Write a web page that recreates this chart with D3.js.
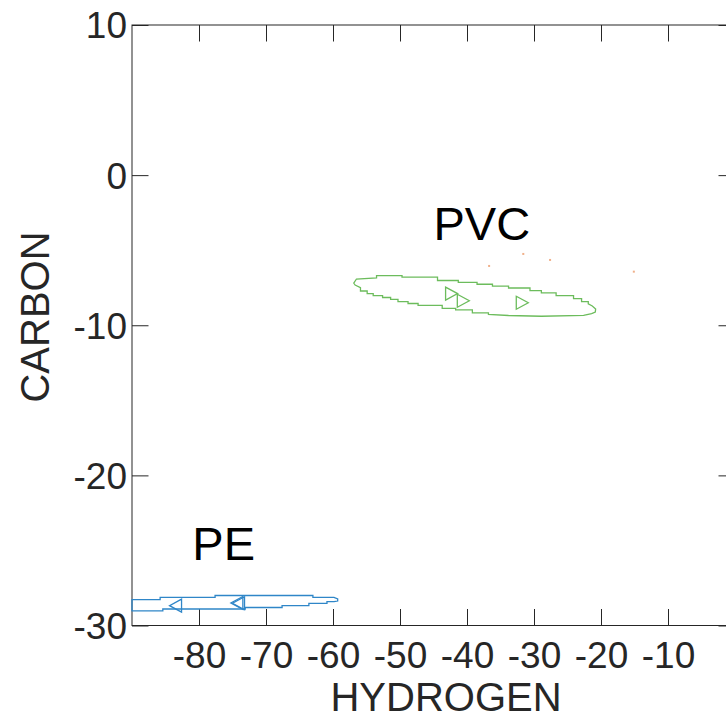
<!DOCTYPE html>
<html>
<head>
<meta charset="utf-8">
<script src="https://cdn.jsdelivr.net/npm/d3@7.9.0/dist/d3.min.js"></script>
<style>
  body { margin: 0; background: #fff; }
  svg { display: block; font-family: 'Liberation Sans', Arial, sans-serif; }
</style>
</head>
<body>
<svg id="chart" width="726" height="718"></svg>
<script>
// axis ticks
const xTicks = [-80, -70, -60, -50, -40, -30, -20, -10];
const yTicks = [10, 0, -10, -20, -30];

// contour outlines (data units)
const peContour = [
  [-90, -28.27], [-85.8, -28.27], [-85.8, -28.12], [-77.6, -28.12], [-77.6, -28.0],
  [-63.0, -28.0], [-63.0, -28.13], [-59.85, -28.13], [-59.3, -28.23], [-59.3, -28.37],
  [-59.85, -28.41], [-60.9, -28.41], [-60.9, -28.52], [-63.6, -28.52], [-63.6, -28.67],
  [-67.6, -28.67], [-67.6, -28.80], [-73.1, -28.80], [-73.1, -28.90], [-85.4, -28.90],
  [-85.4, -29.03], [-90, -29.03]
];
const pvcContour = [
  [-56.9, -7.19], [-56.5, -6.92], [-53.5, -6.85], [-53.5, -6.69], [-49.7, -6.69],
  [-49.7, -6.79], [-44.4, -6.79], [-44.4, -7.02], [-41.3, -7.02], [-41.3, -7.15],
  [-38.5, -7.15], [-38.5, -7.27], [-36.2, -7.27], [-36.2, -7.39], [-33.8, -7.39],
  [-33.8, -7.52], [-30.6, -7.52], [-30.6, -7.69], [-28.9, -7.69], [-28.9, -7.85],
  [-26.7, -7.85], [-26.7, -8.02], [-24.1, -8.02], [-24.1, -8.22], [-22.9, -8.22],
  [-22.9, -8.42], [-21.9, -8.42], [-21.9, -8.58], [-21.3, -8.72], [-20.8, -8.92],
  [-20.85, -9.12], [-21.4, -9.22], [-22.6, -9.34], [-28.9, -9.40], [-33.8, -9.35],
  [-36.8, -9.28], [-36.8, -9.17], [-39.2, -9.17], [-39.2, -8.97], [-41.7, -8.97],
  [-41.7, -8.87], [-43.7, -8.87], [-43.7, -8.68], [-47.3, -8.68], [-47.3, -8.55],
  [-48.8, -8.55], [-48.8, -8.42], [-50.3, -8.42], [-50.3, -8.28], [-51.4, -8.28],
  [-51.4, -8.15], [-52.6, -8.15], [-52.6, -8.02], [-54.0, -8.02], [-54.0, -7.89],
  [-54.9, -7.89], [-54.9, -7.72], [-55.9, -7.72], [-55.9, -7.49], [-56.7, -7.32]
];

// sample points
const pePoints = [[-83.5, -28.68], [-74.1, -28.52], [-74.35, -28.5]];
const pvcPoints = [[-42.3, -7.89], [-40.55, -8.37], [-31.75, -8.5]];
// faint third-class contour specks
const otherSpecks = [[-31.6, -5.25], [-36.7, -6.05], [-27.6, -5.65], [-15.1, -6.43]];

const labels = [
  { text: 'PVC', x: -45, y: -4.3 },
  { text: 'PE', x: -81, y: -25.64 }
];

const peColor = '#2f86c8';
const pvcColor = '#6cbc5c';
const axisColor = '#262626';

const svg = d3.select('#chart');
const mLeft = 132, mRight = 735, mTop = 25, mBottom = 625.5;

const x = d3.scaleLinear().domain([-90, 0]).range([mLeft, mRight]);
const y = d3.scaleLinear().domain([-30, 10]).range([mBottom, mTop]);

svg.append('defs').append('clipPath').attr('id', 'plot')
  .append('rect').attr('x', mLeft).attr('y', mTop)
  .attr('width', mRight - mLeft).attr('height', mBottom - mTop);

// axes with inward ticks, plain hyphen minus signs
const tickLen = 16.5;
const fontTick = 37;
const fmt = d => String(d);

const xAxis = svg.append('g').attr('transform', `translate(0,${mBottom})`)
  .call(d3.axisBottom(x).tickValues(xTicks).tickFormat(fmt).tickSizeInner(-tickLen).tickSizeOuter(0).tickPadding(0));
xAxis.select('.domain').remove();
xAxis.selectAll('.tick line').attr('stroke', axisColor);
xAxis.selectAll('.tick text')
  .attr('y', 42.5).attr('dy', null)
  .attr('fill', axisColor).attr('font-size', fontTick)
  .attr('font-family', "'Liberation Sans', Arial, sans-serif");

const xAxisTop = svg.append('g').attr('transform', `translate(0,${mTop})`)
  .call(d3.axisTop(x).tickValues(xTicks).tickSizeInner(-tickLen).tickSizeOuter(0).tickFormat(''));
xAxisTop.select('.domain').remove();
xAxisTop.selectAll('.tick line').attr('stroke', axisColor);

const yAxis = svg.append('g').attr('transform', `translate(${mLeft},0)`)
  .call(d3.axisLeft(y).tickValues(yTicks).tickFormat(fmt).tickSizeInner(-tickLen).tickSizeOuter(0).tickPadding(5));
yAxis.select('.domain').remove();
yAxis.selectAll('.tick line').attr('stroke', axisColor);
yAxis.selectAll('.tick text')
  .attr('x', -5).attr('dy', '0.35em')
  .attr('fill', axisColor).attr('font-size', fontTick)
  .attr('font-family', "'Liberation Sans', Arial, sans-serif");

const yAxisRight = svg.append('g').attr('transform', `translate(${mRight},0)`)
  .call(d3.axisRight(y).tickValues(yTicks).tickSizeInner(-tickLen).tickSizeOuter(0).tickFormat(''));
yAxisRight.select('.domain').remove();
yAxisRight.selectAll('.tick line').attr('stroke', axisColor);

// box
svg.append('rect')
  .attr('x', mLeft).attr('y', mTop)
  .attr('width', mRight - mLeft).attr('height', mBottom - mTop)
  .attr('fill', 'none').attr('stroke', axisColor).attr('stroke-width', 1);

const plot = svg.append('g').attr('clip-path', 'url(#plot)');
const line = d3.line().x(d => x(d[0])).y(d => y(d[1]));

plot.append('path').datum(pvcContour)
  .attr('d', d => line(d) + 'Z')
  .attr('fill', 'none').attr('stroke', pvcColor).attr('stroke-width', 1.3);

svg.append('path').datum(peContour)
  .attr('d', d => line(d) + 'Z')
  .attr('fill', 'none').attr('stroke', peColor).attr('stroke-width', 1.3);

plot.selectAll('.speck').data(otherSpecks).join('rect')
  .attr('class', 'speck')
  .attr('x', d => x(d[0]) - 1).attr('y', d => y(d[1]) - 1)
  .attr('width', 2).attr('height', 2)
  .attr('fill', '#f0b08a');

// triangle markers
const tw = 12, th = 13;
plot.selectAll('.pe').data(pePoints).join('path')
  .attr('class', 'pe')
  .attr('d', d => {
    const cx = x(d[0]), cy = y(d[1]);
    return `M${cx + tw / 2},${cy - th / 2}L${cx - tw / 2},${cy}L${cx + tw / 2},${cy + th / 2}Z`;
  })
  .attr('fill', 'none').attr('stroke', peColor).attr('stroke-width', 1.3);

plot.selectAll('.pvc').data(pvcPoints).join('path')
  .attr('class', 'pvc')
  .attr('d', d => {
    const cx = x(d[0]), cy = y(d[1]);
    return `M${cx - tw / 2},${cy - th / 2}L${cx + tw / 2},${cy}L${cx - tw / 2},${cy + th / 2}Z`;
  })
  .attr('fill', 'none').attr('stroke', pvcColor).attr('stroke-width', 1.3);

// class labels
svg.selectAll('.lbl').data(labels).join('text')
  .attr('class', 'lbl')
  .attr('x', d => x(d.x)).attr('y', d => y(d.y))
  .attr('font-size', 47).attr('fill', '#000')
  .text(d => d.text);

// axis titles
svg.append('text')
  .attr('x', 446).attr('y', 711)
  .attr('text-anchor', 'middle')
  .attr('font-size', 40).attr('fill', axisColor)
  .text('HYDROGEN');

svg.append('text')
  .attr('transform', 'translate(49,317) rotate(-90)')
  .attr('text-anchor', 'middle')
  .attr('font-size', 40).attr('fill', axisColor)
  .text('CARBON');
</script>
</body>
</html>
